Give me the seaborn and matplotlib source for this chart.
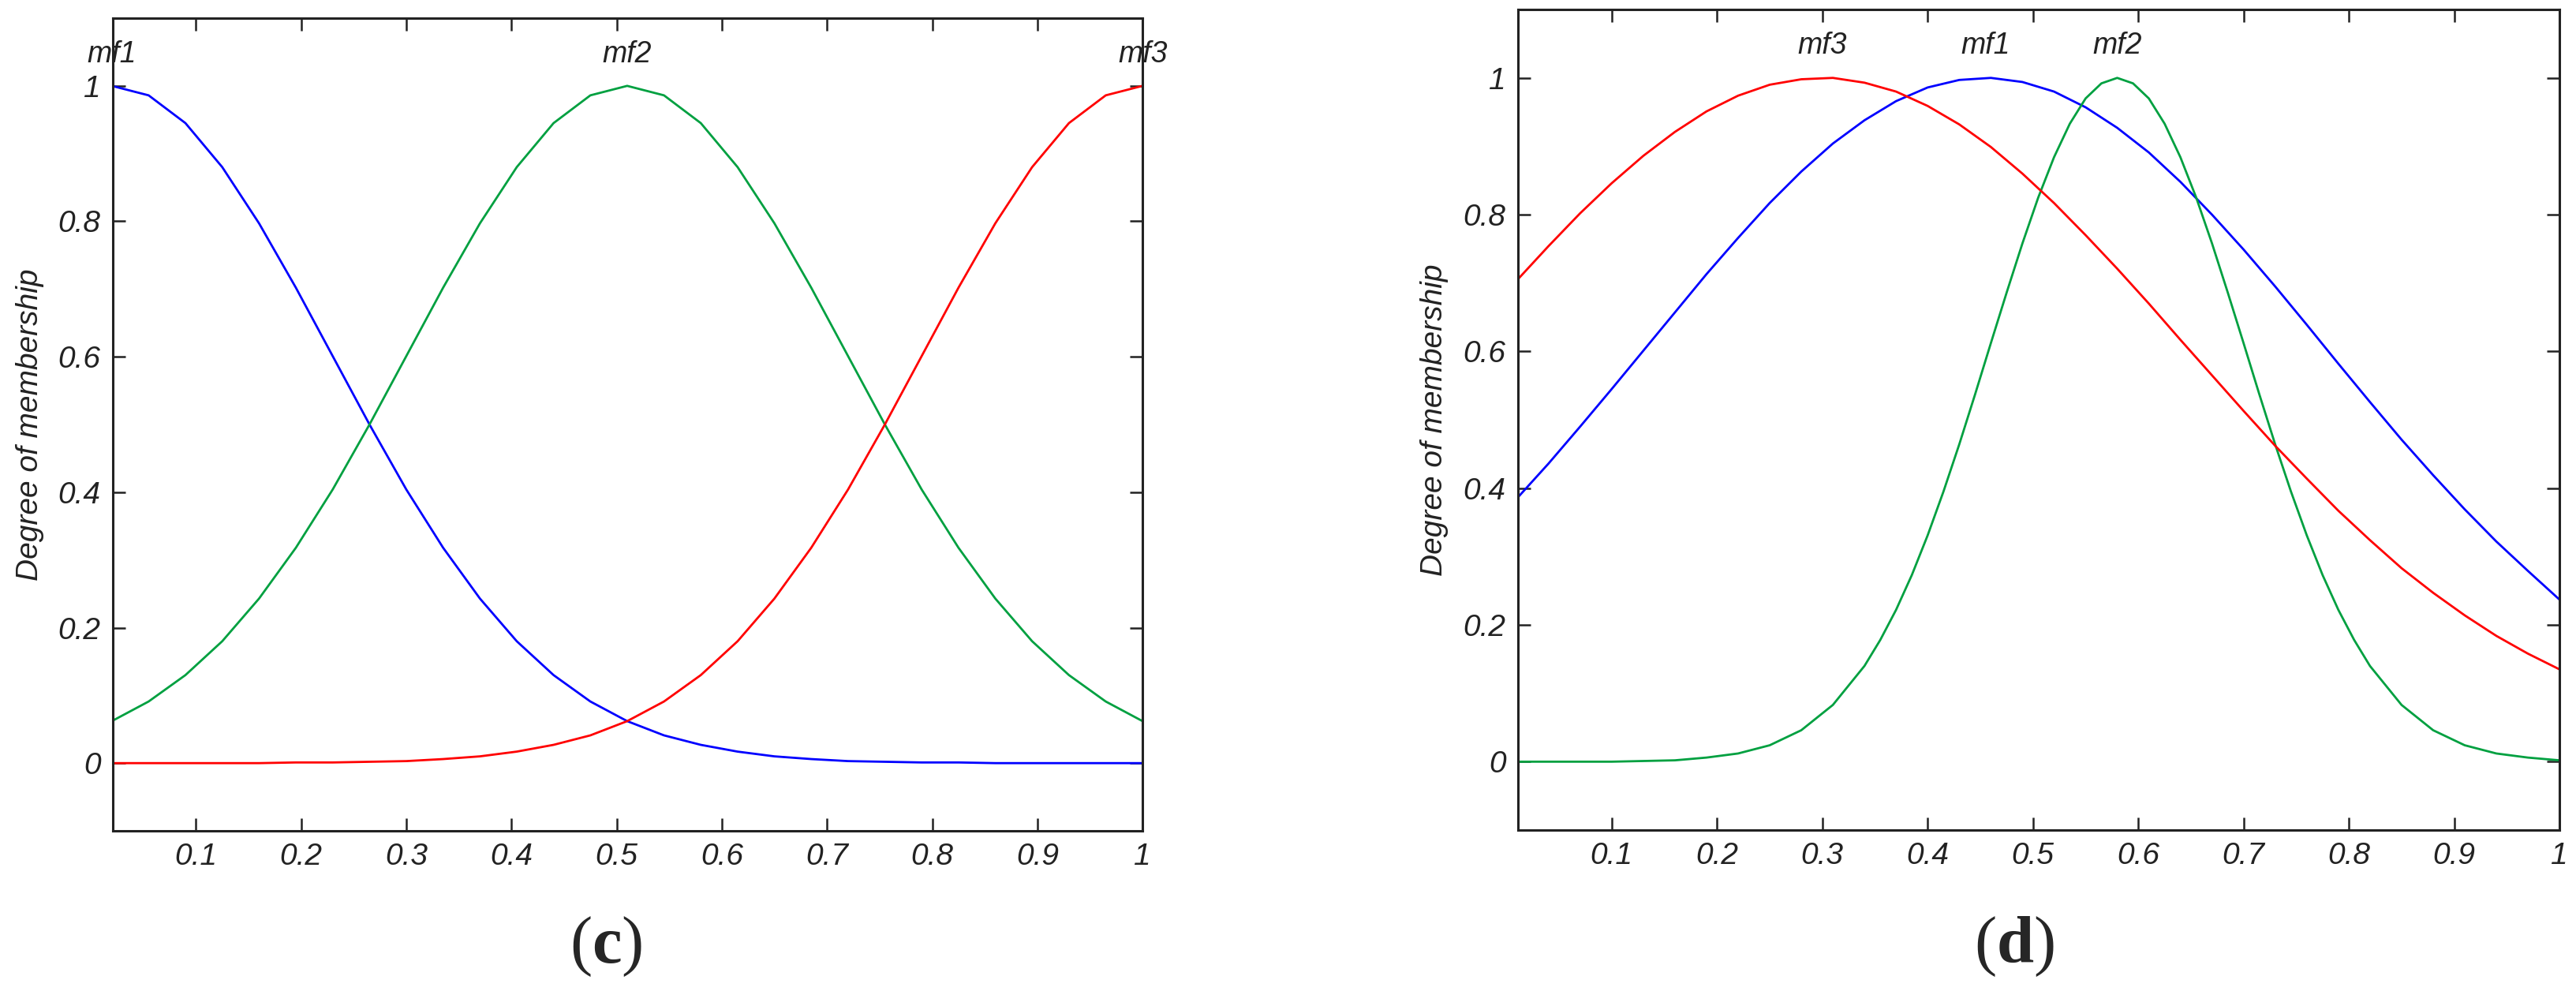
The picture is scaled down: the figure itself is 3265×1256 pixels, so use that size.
import numpy as np
import pandas as pd
import seaborn as sns
import matplotlib
import matplotlib.pyplot as plt

sns.set_style('ticks')
plt.rcParams['font.family'] = ['Liberation Sans', 'DejaVu Sans']
plt.rcParams['mathtext.fontset'] = 'custom'
plt.rcParams['mathtext.rm'] = 'Liberation Serif'
plt.rcParams['mathtext.bf'] = 'Liberation Serif:bold'

# panel (c): three membership functions
x_c = [0.02, 0.055, 0.09, 0.125, 0.16, 0.195, 0.23, 0.265, 0.30, 0.335,
       0.37, 0.405, 0.44, 0.475, 0.51, 0.545, 0.58, 0.615, 0.65, 0.685,
       0.72, 0.755, 0.79, 0.825, 0.86, 0.895, 0.93, 0.965, 1.0]
mf1_c = [1.000, 0.986, 0.945, 0.880, 0.797, 0.702, 0.601, 0.500, 0.404, 0.318,
         0.243, 0.180, 0.130, 0.091, 0.062, 0.041, 0.027, 0.017, 0.010, 0.006,
         0.003, 0.002, 0.001, 0.001, 0.000, 0.000, 0.000, 0.000, 0.000]
mf2_c = [0.062, 0.091, 0.130, 0.180, 0.243, 0.318, 0.404, 0.500, 0.601, 0.702,
         0.797, 0.880, 0.945, 0.986, 1.000, 0.986, 0.945, 0.880, 0.797, 0.702,
         0.601, 0.500, 0.404, 0.318, 0.243, 0.180, 0.130, 0.091, 0.062]
mf3_c = [0.000, 0.000, 0.000, 0.000, 0.000, 0.001, 0.001, 0.002, 0.003, 0.006,
         0.010, 0.017, 0.027, 0.041, 0.062, 0.091, 0.130, 0.180, 0.243, 0.318,
         0.404, 0.500, 0.601, 0.702, 0.797, 0.880, 0.945, 0.986, 1.000]
peaks_c = {'mf1': 0.02, 'mf2': 0.51, 'mf3': 1.0}

# panel (d)
x_d = [0.01, 0.04, 0.07, 0.10, 0.13, 0.16, 0.19, 0.22, 0.25, 0.28,
       0.31, 0.34, 0.37, 0.40, 0.43, 0.46, 0.49, 0.52, 0.55, 0.58,
       0.61, 0.64, 0.67, 0.70, 0.73, 0.76, 0.79, 0.82, 0.85, 0.88,
       0.91, 0.94, 0.97, 1.00]
mf1_d = [0.385, 0.436, 0.490, 0.545, 0.601, 0.657, 0.713, 0.766, 0.817, 0.863,
         0.904, 0.938, 0.966, 0.986, 0.997, 1.000, 0.994, 0.980, 0.957, 0.927,
         0.891, 0.848, 0.800, 0.749, 0.695, 0.639, 0.582, 0.526, 0.471, 0.419,
         0.369, 0.322, 0.279, 0.237]
mf3_d = [0.704, 0.754, 0.802, 0.846, 0.886, 0.921, 0.951, 0.974, 0.990, 0.998,
         1.000, 0.993, 0.980, 0.959, 0.932, 0.899, 0.860, 0.817, 0.770, 0.721,
         0.670, 0.617, 0.565, 0.513, 0.462, 0.414, 0.367, 0.324, 0.283, 0.247,
         0.214, 0.184, 0.158, 0.135]
# mf2 in (d) is narrow, so it is read at a finer step around its peak
x_d_mf2 = [0.01, 0.04, 0.07, 0.10, 0.13, 0.16, 0.19, 0.22, 0.25, 0.28, 0.31, 0.34,
           0.355, 0.37, 0.385, 0.40, 0.415, 0.43, 0.445, 0.46, 0.475, 0.49,
           0.505, 0.52, 0.535, 0.55, 0.565, 0.58, 0.595, 0.61, 0.625, 0.64,
           0.655, 0.67, 0.685, 0.70, 0.715, 0.73, 0.745, 0.76, 0.775, 0.79,
           0.805, 0.82, 0.85, 0.88, 0.91, 0.94, 0.97, 1.00]
mf2_d = [0.000, 0.000, 0.000, 0.000, 0.001, 0.002, 0.006, 0.012, 0.024, 0.046, 0.083, 0.140,
         0.178, 0.222, 0.273, 0.331, 0.395, 0.464, 0.537, 0.612, 0.686, 0.758,
         0.825, 0.884, 0.933, 0.970, 0.992, 1.000, 0.992, 0.970, 0.933, 0.884,
         0.825, 0.758, 0.686, 0.612, 0.537, 0.464, 0.395, 0.331, 0.273, 0.222,
         0.178, 0.140, 0.083, 0.046, 0.024, 0.012, 0.006, 0.002]
peaks_d = {'mf3': 0.30, 'mf1': 0.455, 'mf2': 0.58}

x_ticks = [0.1, 0.2, 0.3, 0.4, 0.5, 0.6, 0.7, 0.8, 0.9, 1.0]
x_ticklabels = ['0.1', '0.2', '0.3', '0.4', '0.5', '0.6', '0.7', '0.8', '0.9', '1']
y_ticks = [0, 0.2, 0.4, 0.6, 0.8, 1.0]
y_ticklabels = ['0', '0.2', '0.4', '0.6', '0.8', '1']

colours = {'mf1': '#0000ff', 'mf2': '#00a040', 'mf3': '#ff0000'}
ink = '#222222'


def plot_mfs(ax, curves, peaks, xmin):
    df = pd.concat([pd.DataFrame({'x': x, 'y': y, 'mf': name})
                    for name, (x, y) in curves.items()], ignore_index=True)
    sns.lineplot(data=df, x='x', y='y', hue='mf', palette=colours,
                 estimator=None, legend=False, linewidth=2.0, ax=ax)
    for name, px in peaks.items():
        ax.text(px, 1.035, name, ha='center', va='baseline',
                fontsize=27, fontstyle='italic', color=ink)

    ax.set_xlim(xmin, 1.0)
    ax.set_ylim(-0.1, 1.1)
    ax.set_xticks(x_ticks)
    ax.set_xticklabels(x_ticklabels, fontsize=28, fontstyle='italic', color=ink)
    ax.set_yticks(y_ticks)
    ax.set_yticklabels(y_ticklabels, fontsize=28, fontstyle='italic', color=ink)
    ax.tick_params(direction='in', length=11.5, width=1.8, top=True, right=True,
                   pad=11, color=ink)
    for s in ax.spines.values():
        s.set_visible(True)
        s.set_linewidth(2.2)
        s.set_color(ink)
    ax.set_xlabel('')
    ax.set_ylabel('Degree of membership', fontsize=28, fontstyle='italic', color=ink)
    ax.yaxis.set_label_coords(-0.067, 0.5)


fig = plt.figure(figsize=(32.66, 12.56), dpi=100)
ax_c = fig.add_axes([0.0438, 0.1616, 0.3996, 0.8201])
ax_d = fig.add_axes([0.5891, 0.1624, 0.4042, 0.8280])

plot_mfs(ax_c, {'mf1': (x_c, mf1_c), 'mf2': (x_c, mf2_c), 'mf3': (x_c, mf3_c)},
         peaks_c, 0.021)
plot_mfs(ax_d, {'mf1': (x_d, mf1_d), 'mf2': (x_d_mf2, mf2_d), 'mf3': (x_d, mf3_d)},
         peaks_d, 0.011)

fig.text(0.2352, 0.0446, r'($\mathbf{c}$)', ha='center', va='center',
         fontsize=61, family='Liberation Serif')
fig.text(0.7817, 0.0446, r'($\mathbf{d}$)', ha='center', va='center',
         fontsize=61, family='Liberation Serif')

fig.savefig('out.png', dpi=100)
plt.close()
